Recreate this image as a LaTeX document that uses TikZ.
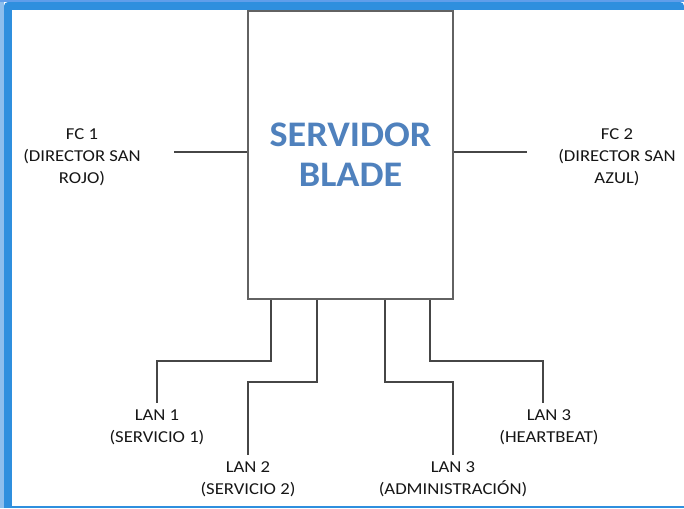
\documentclass[tikz,border=0pt]{standalone}
\usepackage{fontspec}
\setmainfont{Carlito}
\newfontfamily\labelfont[FakeStretch=1.12]{Carlito}
\newfontfamily\titlefont[FakeStretch=1.06]{Carlito}
\usepackage{xcolor}
\usepackage{tikz}
\usetikzlibrary{positioning, calc}
\definecolor{framelight}{RGB}{141, 190, 237}
\definecolor{frametop}{RGB}{96, 158, 234}
\definecolor{framedark}{RGB}{47, 143, 222}
\definecolor{titleblue}{RGB}{79, 129, 189}
\definecolor{wiregray}{RGB}{70, 70, 70}
\definecolor{labelgray}{RGB}{22, 22, 22}

\begin{document}
\begin{tikzpicture}[x=0.75pt, y=-0.75pt,
        server/.style={rectangle, draw=wiregray!85, line width=1.3pt, minimum width=153.75pt, minimum height=216pt, align=center, text=titleblue, font=\titlefont\fontsize{27}{30}\selectfont\bfseries},
        portlabel/.style={align=center, text=labelgray, inner sep=5pt, font=\labelfont\fontsize{12.5}{16.5}\selectfont},
        wire/.style={line width=1.1pt, color=wiregray}
    ]
        \useasboundingbox (0,0) rectangle (684,508);
        % window frame
        \fill[framelight] (0,0) rectangle (4,508);
        \fill[frametop] (0,0) rectangle (684,2);
        \fill[framedark, rounded corners=3pt] (4,2) rectangle (684,14);
        \fill[framedark] (4,8) rectangle (12,508);
        \fill[white] (12,10) rectangle (684,506);
        \fill[framedark] (12,506) rectangle (684,508);

        \node[server] (srv) at (350.5, 155) {SERVIDOR\\ BLADE};

        \node[portlabel] (fc1) at (82, 157) {FC 1\\ (DIRECTOR SAN\\ ROJO)};
        \node[portlabel] (fc2) at (617, 157) {FC 2\\ (DIRECTOR SAN\\ AZUL)};

        \node[portlabel, anchor=north] (lan1) at (157, 403) {LAN 1\\ (SERVICIO 1)};
        \node[portlabel, anchor=north] (lan2) at (248, 455) {LAN 2\\ (SERVICIO 2)};
        \node[portlabel, anchor=north] (lan3a) at (453, 455) {LAN 3\\ (ADMINISTRACIÓN)};
        \node[portlabel, anchor=north] (lan3h) at (549, 403) {LAN 3\\ (HEARTBEAT)};

        % side links
        \coordinate (s1) at (174, 152);
        \coordinate (s2) at (527, 152);
        \draw[wire] (s1) -- (s1 -| srv.west);
        \draw[wire] (s1 -| srv.east) -- (s2);

        % network taps below the box
        \coordinate (k1) at (271, 361);
        \coordinate (k2) at (317, 382);
        \coordinate (k3) at (385, 382);
        \coordinate (k4) at (430, 361);
        \draw[wire] (srv.south -| k1) -- (k1) -| (lan1.north);
        \draw[wire] (srv.south -| k2) -- (k2) -| (lan2.north);
        \draw[wire] (srv.south -| k3) -- (k3) -| (lan3a.north);
        \draw[wire] (srv.south -| k4) -- (k4) -| ([xshift=-4.5pt]lan3h.north);
    \end{tikzpicture}
\end{document}
